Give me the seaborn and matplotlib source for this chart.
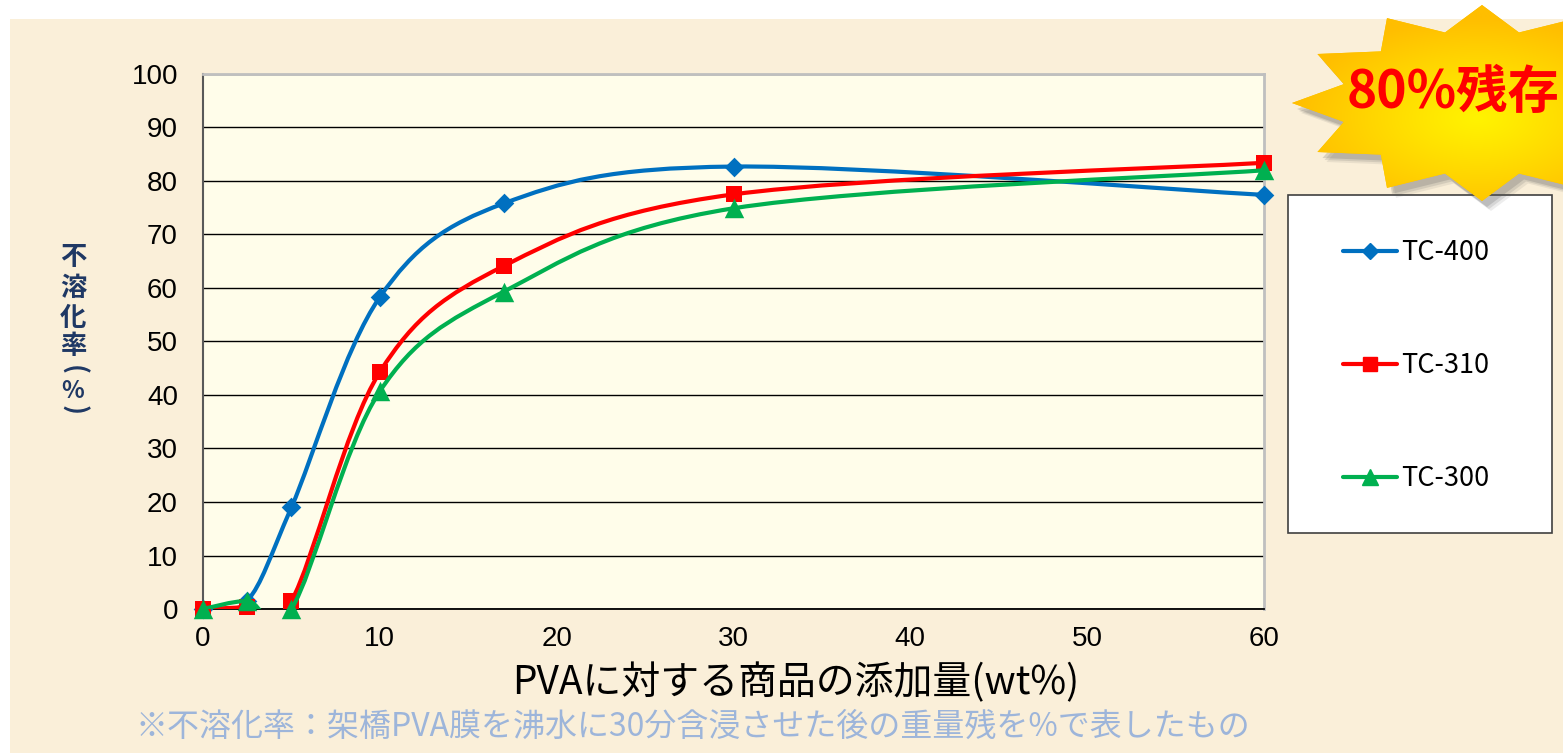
import numpy as np
import matplotlib
matplotlib.use("Agg")
import matplotlib.pyplot as plt
import seaborn as sns
from matplotlib.path import Path
from matplotlib.patches import PathPatch, Polygon, Rectangle
from matplotlib.lines import Line2D

# ---------------- data ----------------
x_vals = [0, 2.5, 5, 10, 17, 30, 60]
series_names = ["TC-400", "TC-310", "TC-300"]
tc400 = [0, 1.5, 19.0, 58.3, 75.8, 82.7, 77.4]
tc310 = [0, 0.4, 1.5, 44.3, 64.1, 77.5, 83.4]
tc300 = [0, 1.5, 0.0, 40.7, 59.3, 74.9, 82.0]
x_ticks = [0, 10, 20, 30, 40, 50, 60]
y_ticks = [0, 10, 20, 30, 40, 50, 60, 70, 80, 90, 100]
x_label = "PVAに対する商品の添加量(wt%)"
y_label_chars = ["不", "溶", "化", "率", "(", "%", ")"]
footnote = "※不溶化率：架橋PVA膜を沸水に30分含浸させた後の重量残を%で表したもの"
badge = "80%残存"

colors = ["#0070C0", "#FF0000", "#00B050"]
markers = ["D", "s", "^"]
msizes = [10, 11.5, 14]

W, H = 1563, 753
sns.set_theme(style="white")
plt.rcParams['font.family'] = ['Liberation Sans', 'DejaVu Sans']
CJK = ['Noto Sans CJK JP', 'DejaVu Sans']

fig = plt.figure(figsize=(W / 100, H / 100), dpi=100, facecolor='white')

# background
bg = fig.add_axes([0, 0, 1, 1], zorder=-10)
bg.set_xlim(0, W); bg.set_ylim(H, 0); bg.axis('off')
bg.add_patch(Rectangle((10, 19), W - 10, H - 19, facecolor='#FAEFD9', edgecolor='none'))

# main axes
L, R, T, B = 203, 1264, 74, 609
ax = fig.add_axes([L / W, 1 - B / H, (R - L) / W, (B - T) / H], zorder=0)
ax.set_facecolor('#FFFDEA')


def smooth_path(xs, ys):
    pts = np.column_stack([xs, ys]).astype(float)
    n = len(pts)
    verts = [pts[0]]
    codes = [Path.MOVETO]
    for i in range(n - 1):
        p0 = pts[i - 1] if i > 0 else pts[i]
        p1 = pts[i]
        p2 = pts[i + 1]
        p3 = pts[i + 2] if i + 2 < n else pts[i + 1]
        c1 = p1 + (p2 - p0) / 6.0
        c2 = p2 - (p3 - p1) / 6.0
        verts += [c1, c2, p2]
        codes += [Path.CURVE4] * 3
    return Path(verts, codes)


all_series = [tc400, tc310, tc300]
for k, (ys, c, m, ms) in enumerate(zip(all_series, colors, markers, msizes)):
    patch = PathPatch(smooth_path(x_vals, ys), facecolor='none', edgecolor=c,
                      lw=3, capstyle='round', joinstyle='round', zorder=3 + k)
    ax.add_patch(patch)
    sns.scatterplot(x=x_vals, y=ys, marker=m, color=c, s=ms ** 2, linewidth=0,
                    ax=ax, zorder=3.5 + k, legend=False)
    ax.collections[-1].set_clip_on(False)

ax.set_xlim(0, 60)
ax.set_ylim(0, 100)
ax.set_xticks(x_ticks)
ax.set_yticks(y_ticks)
ax.set_xticklabels([str(v) for v in x_ticks])
ax.set_yticklabels([str(v) for v in y_ticks])
ax.tick_params(axis='x', direction='in', length=6, width=1, color='#404040',
               labelsize=20, pad=12, labelcolor='black')
ax.tick_params(axis='y', direction='in', length=6, width=1, color='#404040',
               labelsize=20, pad=18, labelcolor='black')
ax.set_axisbelow(True)
ax.yaxis.grid(True, color='black', lw=1)
ax.xaxis.grid(False)
ax.set_xlabel(""); ax.set_ylabel("")
for s in ['top', 'right']:
    ax.spines[s].set_color('#BFBFBF'); ax.spines[s].set_linewidth(2)
ax.spines['left'].set_color('#595959'); ax.spines['left'].set_linewidth(1.5)
ax.spines['bottom'].set_color('black'); ax.spines['bottom'].set_linewidth(1.3)

# overlay for annotations
ov = fig.add_axes([0, 0, 1, 1], zorder=10)
ov.set_xlim(0, W); ov.set_ylim(H, 0); ov.axis('off')
ov.patch.set_alpha(0)

# legend box
ov.add_patch(Rectangle((1288, 195), 264, 338, facecolor='white', edgecolor='#404040',
                       lw=1.2, zorder=2))
for name, c, m, ms, ly in zip(series_names, colors, markers, msizes, [251, 364, 477]):
    ov.add_line(Line2D([1343, 1397], [ly, ly], color=c, lw=3, solid_capstyle='round', zorder=2.2))
    ov.add_line(Line2D([1370], [ly], marker=m, color=c, markersize=ms * 0.85, lw=0, zorder=2.3))
    ov.text(1401, ly + 1, name, ha='left', va='center', fontsize=19.5, family=CJK,
            color='black', zorder=2.4)

# starburst
cx, cy = 1482, 103
idx = np.arange(24)
ang = np.deg2rad(90 + 15 * idx)
rx = np.where(idx % 2 == 0, 190, 143)
ry = np.where(idx % 2 == 0, 98, 73)
sx = cx + rx * np.cos(ang)
sy = cy - ry * np.sin(ang)
star_xy = np.column_stack([sx, sy])
for off, a in [((9, 10), 0.10), ((7, 8), 0.15), ((5, 6), 0.2)]:
    ov.add_patch(Polygon(star_xy + np.array(off), closed=True, facecolor='#555555',
                         edgecolor='none', alpha=a, zorder=2.6))
star = Polygon(star_xy, closed=True, facecolor='#FFC000', edgecolor='none', zorder=2.8)
ov.add_patch(star)
gx = np.linspace(1280, W, 300)
gy = np.linspace(0, 215, 230)
GX, GY = np.meshgrid(gx, gy)
d = np.sqrt(((GX - 1478) / 185) ** 2 + ((GY - 118) / 100) ** 2)
d = np.clip(d, 0, 1) ** 1.1
c0 = np.array([255, 243, 0]) / 255
c1 = np.array([255, 190, 0]) / 255
img = c0 + (c1 - c0) * d[..., None]
im = ov.imshow(img, extent=(1280, W, 215, 0), origin='upper', zorder=3, aspect='auto',
               interpolation='bilinear')
im.set_clip_path(star)
ov.set_xlim(0, W); ov.set_ylim(H, 0)
ov.text(1347, 92, badge, ha='left', va='center', fontsize=37, fontweight='bold',
        color='#FF0000', family=CJK, zorder=4)

# vertical y label (stacked characters, brackets turned for vertical writing)
ylab_y = [257, 288, 318, 346, 370, 391, 410]
ylab_fs = [19, 19, 19, 19, 19, 17, 19]
for ch, yy, fs in zip(y_label_chars, ylab_y, ylab_fs):
    rot = -90 if ch in "()" else 0
    ov.text(73, yy, ch, ha='center', va='center', fontsize=fs, fontweight='bold',
            color='#1F3864', family=CJK, rotation=rot, zorder=4)

ov.text(796, 683, x_label, ha='center', va='center', fontsize=28, color='black',
        family=CJK, zorder=4)
ov.text(693, 727, footnote, ha='center', va='center', fontsize=23, color='#9DB5DA',
        family=CJK, zorder=4)

fig.savefig("out.png", dpi=100, facecolor=fig.get_facecolor())
